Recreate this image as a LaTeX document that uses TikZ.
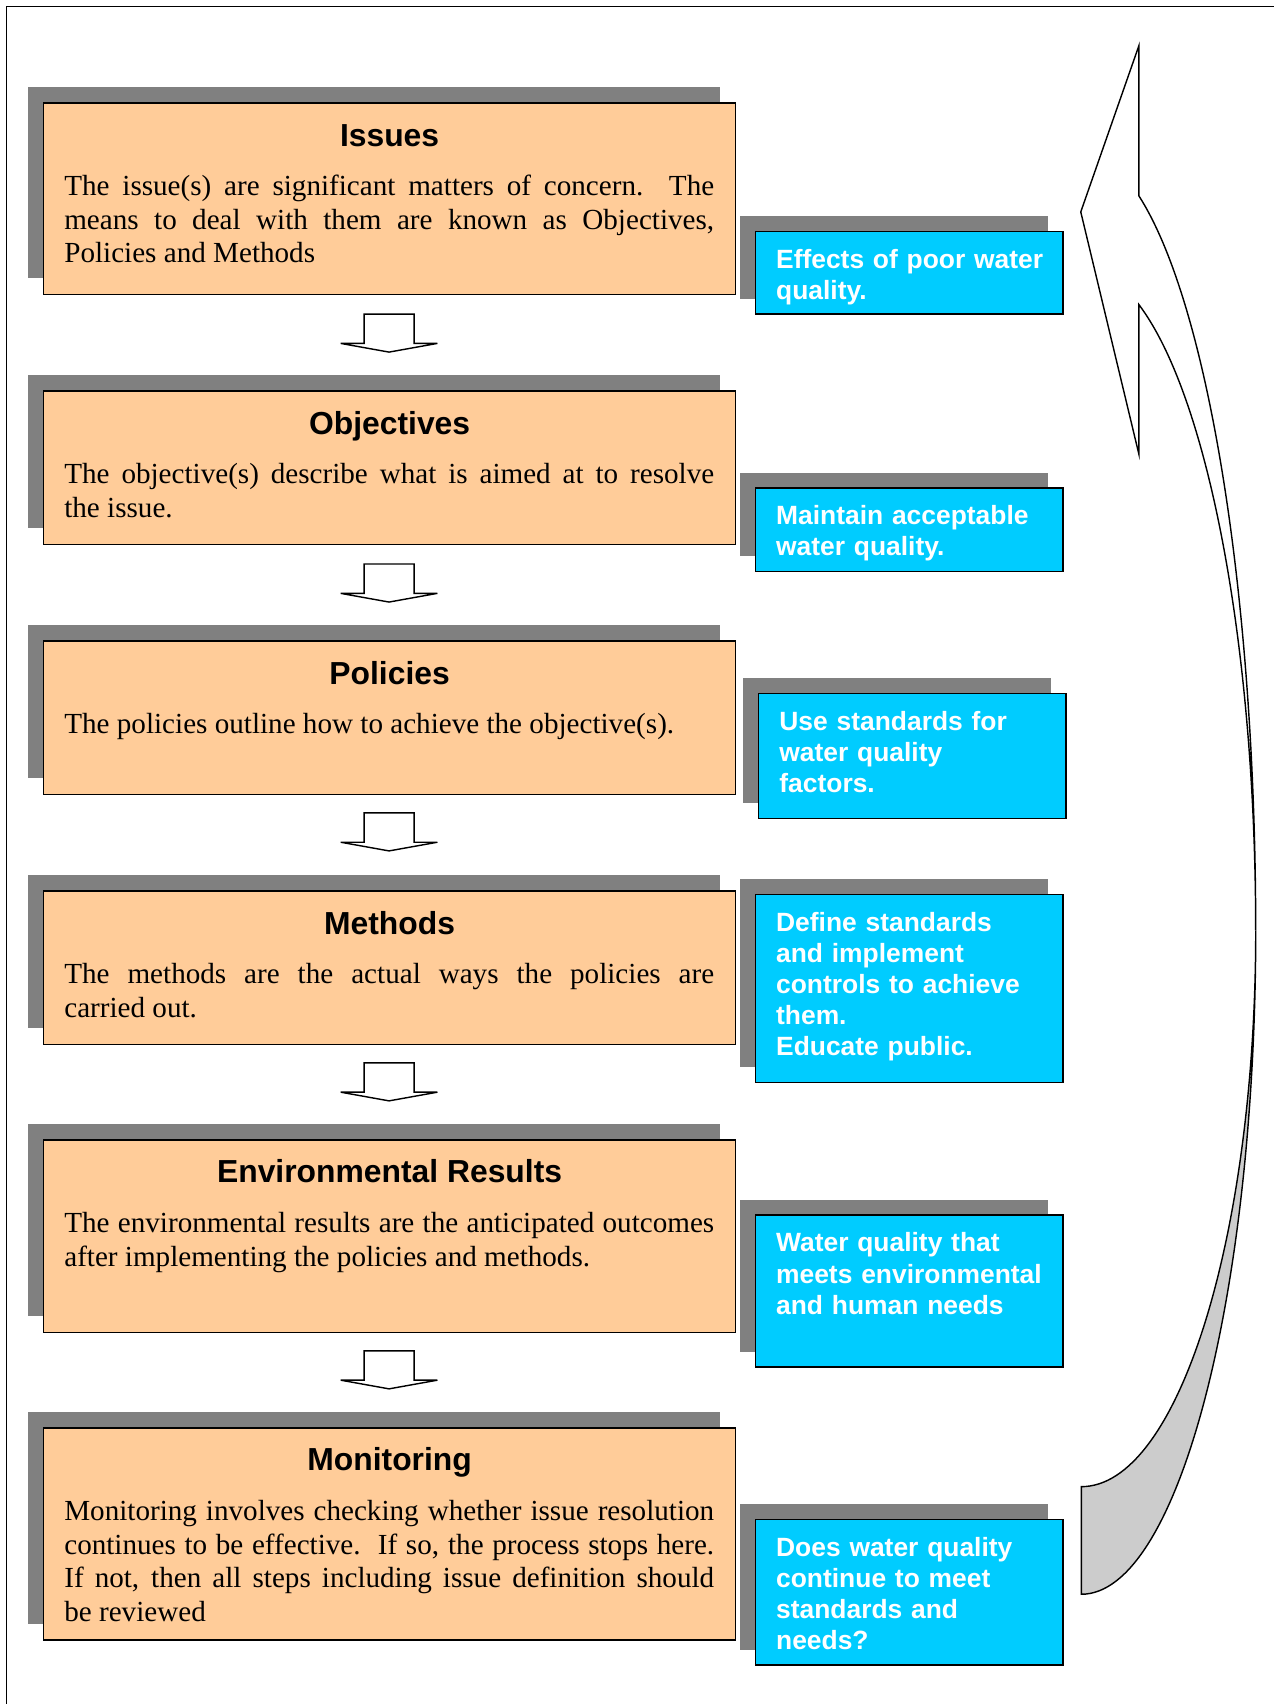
\documentclass[tikz,border=0pt]{standalone}
\usepackage{fontspec}
\setmainfont{Liberation Serif}
\setsansfont{Liberation Sans}
\usetikzlibrary{shadows}
\definecolor{peach}{HTML}{FFCC99}
\definecolor{skyb}{HTML}{00CCFF}
\definecolor{shgray}{HTML}{808080}
\definecolor{argray}{HTML}{CCCCCC}
\begin{document}
\begin{tikzpicture}[x=1pt,y=1pt,
  orangebox/.style={draw=black, line width=1.4pt, fill=peach, rectangle, inner sep=0pt, outer sep=0pt,
    anchor=north west, minimum width=637pt,
    drop shadow={shadow xshift=-14.5pt, shadow yshift=15pt, fill=shgray, opacity=1}},
  bluebox/.style={draw=black, line width=1.4pt, fill=skyb, rectangle, inner sep=0pt, outer sep=0pt,
    anchor=north west, minimum width=283pt,
    drop shadow={shadow xshift=-14pt, shadow yshift=14pt, fill=shgray, opacity=1}},
  titletext/.style={anchor=base, inner sep=0pt, font={\sffamily\bfseries\fontsize{29.3}{34}\selectfont}},
  bodytext/.style={anchor=base west, inner sep=0pt, text width=598pt, align=justify,
    font={\fontsize{26.8}{31}\selectfont}},
  bluetext/.style={anchor=base west, inner sep=0pt, text width=265pt, align=left, text=white,
    font={\sffamily\bfseries\fontsize{24.3}{28.6}\selectfont}},
  downarr/.pic={\draw[line width=1.3pt, fill=white, line join=miter]
    (-23,0) -- (23,0) -- (23,-27) -- (44.5,-27) -- (0,-35) -- (-44.5,-27) -- (-23,-27) -- cycle;},
  bigarrow/.style={draw=black, line width=1.3pt, line join=miter}
]
\useasboundingbox (0,0) rectangle (1172,-1568);
\fill[white] (0,0) rectangle (1172,-1568);
% frame
\draw[line width=1.3pt] (1172,-6) -- (6,-6) -- (6,-1568);

% orange boxes
\node[orangebox, minimum height=176pt] (issues) at (40,-95) {};
\node[orangebox, minimum height=141pt] (obj) at (40,-360) {};
\node[orangebox, minimum height=141pt] (pol) at (40,-590) {};
\node[orangebox, minimum height=141pt] (meth) at (40,-820) {};
\node[orangebox, minimum height=177pt] (env) at (40,-1049) {};
\node[orangebox, minimum height=195pt] (mon) at (40,-1314) {};

% titles
\node[titletext] (tissues) at (358.5,-134.5) {Issues};
\node[titletext] (tobj) at (358.5,-399.5) {Objectives};
\node[titletext] (tpol) at (358.5,-629.5) {Policies};
\node[titletext] (tmeth) at (358.5,-859.5) {Methods};
\node[titletext] (tenv) at (358.5,-1088.5) {Environmental Results};
\node[titletext] (tmon) at (358.5,-1353.5) {Monitoring};

% bodies
\node[bodytext] (bissues) at (59,-180) {The issue(s) are significant matters of concern.\ \ The\linebreak means to deal with them are known as Objectives,\linebreak Policies and Methods};
\node[bodytext] (bobj) at (59,-445) {The objective(s) describe what is aimed at to resolve\linebreak the issue.};
\node[bodytext] (bpol) at (59,-675) {The policies outline how to achieve the objective(s).};
\node[bodytext] (bmeth) at (59,-905) {The methods are the actual ways the policies are\linebreak carried out.};
\node[bodytext] (benv) at (59,-1134) {The environmental results are the anticipated outcomes\linebreak after implementing the policies and methods.};
\node[bodytext] (bmon) at (59,-1399) {Monitoring involves checking whether issue resolution\linebreak continues to be effective.\ \ If so, the process stops here.\linebreak If not, then all steps including issue definition should\linebreak be reviewed};

% down arrows
\pic at (358,-289) {downarr};
\pic at (358,-519) {downarr};
\pic at (358,-748) {downarr};
\pic at (358,-978) {downarr};
\pic at (358,-1243) {downarr};

% blue boxes
\node[bluebox, minimum height=76pt] (e1) at (695,-213) {};
\node[bluebox, minimum height=77pt] (e2) at (695,-449) {};
\node[bluebox, minimum height=115pt] (e3) at (698,-638) {};
\node[bluebox, minimum height=173pt] (e4) at (695,-823) {};
\node[bluebox, minimum height=140pt] (e5) at (695,-1118) {};
\node[bluebox, minimum height=134pt] (e6) at (695,-1398) {};

\node[bluetext] (x1) at (714,-247) {Effects of poor water\\quality.};
\node[bluetext] (x2) at (714,-483) {Maintain acceptable\\water quality.};
\node[bluetext] (x3) at (717,-672.5) {Use standards for\\water quality\\factors.};
\node[bluetext] (x4) at (714,-857) {Define standards\\and implement\\controls to achieve\\them.\\Educate public.};
\node[bluetext] (x5) at (714,-1152) {Water quality that\\meets environmental\\and human needs};
\node[bluetext] (x6) at (714,-1432) {Does water quality\\continue to meet\\standards and\\needs?};

% big curved return arrow
\draw[bigarrow, fill=argray] (1155.5,-856) arc[start angle=0, end angle=-90, x radius=160.5, y radius=611]
  -- (995,-1368) arc[start angle=-90, end angle=0, x radius=160.5, y radius=512] -- cycle;
\draw[bigarrow, fill=white] (1048,-42) -- (994.5,-195) -- (1048,-418) -- (1048,-280.3)
  arc[start angle=70.7, end angle=0, x radius=160.5, y radius=610]
  arc[start angle=0, end angle=70.7, x radius=160.5, y radius=716] -- cycle;
\end{tikzpicture}
\end{document}
